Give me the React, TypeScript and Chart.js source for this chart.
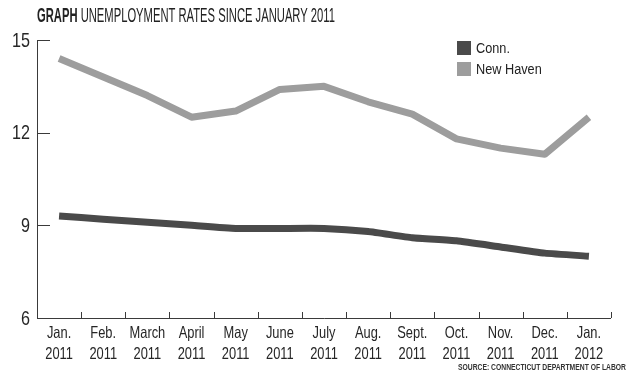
import React, { useEffect, useRef } from "react";
import { Chart, registerables } from "chart.js";

Chart.register(...registerables);

const months = ["Jan.", "Feb.", "March", "April", "May", "June", "July", "Aug.", "Sept.", "Oct.", "Nov.", "Dec.", "Jan."];
const years = ["2011", "2011", "2011", "2011", "2011", "2011", "2011", "2011", "2011", "2011", "2011", "2011", "2012"];
const connValues = [9.3, 9.2, 9.1, 9.0, 8.9, 8.9, 8.9, 8.8, 8.6, 8.5, 8.3, 8.1, 8.0];
const newHavenValues = [14.4, 13.8, 13.2, 12.5, 12.7, 13.4, 13.5, 13.0, 12.6, 11.8, 11.5, 11.3, 12.5];
const yTicks = [6, 9, 12, 15];
const seriesNames = ["Conn.", "New Haven"];
const titleBold = "GRAPH";
const titleRest = " UNEMPLOYMENT RATES SINCE JANUARY 2011";
const sourceText = "SOURCE: CONNECTICUT DEPARTMENT OF LABOR";

const FONT = "'Liberation Sans', Arial, sans-serif";
const DARK = "#4a4a4a";
const LIGHT = "#9d9d9d";
const AXIS = "#3a3a3a";
const TEXT = "#262626";

function drawScaled(ctx: any, text: string, x: number, y: number, font: string, sx: number, align: string) {
  ctx.save();
  ctx.font = font;
  ctx.textBaseline = "middle";
  ctx.textAlign = align;
  ctx.translate(x, y);
  ctx.scale(sx, 1);
  ctx.fillText(text, 0, 0);
  ctx.restore();
}

const decorPlugin = {
  id: "decor",
  beforeDatasetsDraw(chart: any) {
    const ctx = chart.ctx;
    const x = chart.scales.x;
    const y = chart.scales.y;
    const { left, right, top, bottom } = chart.chartArea;
    ctx.save();
    ctx.strokeStyle = AXIS;
    ctx.lineWidth = 1;
    ctx.beginPath();
    ctx.moveTo(left + 0.5, top);
    ctx.lineTo(left + 0.5, bottom + 0.5);
    ctx.lineTo(right, bottom + 0.5);
    ctx.stroke();
    // y ticks inward
    yTicks.forEach((v) => {
      const py = Math.round(y.getPixelForValue(v)) + 0.5;
      ctx.beginPath();
      ctx.moveTo(left, py);
      ctx.lineTo(left + 13, py);
      ctx.stroke();
    });
    // x ticks at category boundaries
    const n = months.length;
    for (let i = 0; i < n; i++) {
      const a = x.getPixelForValue(i);
      const b = i < n - 1 ? x.getPixelForValue(i + 1) : a + (a - x.getPixelForValue(i - 1));
      const px = Math.round((a + b) / 2) + 0.5;
      ctx.beginPath();
      ctx.moveTo(px, bottom);
      ctx.lineTo(px, bottom - 6);
      ctx.stroke();
    }
    ctx.restore();
  },
  afterDraw(chart: any) {
    const ctx = chart.ctx;
    const x = chart.scales.x;
    const y = chart.scales.y;
    const { left, bottom } = chart.chartArea;
    ctx.save();
    ctx.fillStyle = TEXT;

    // y tick labels
    yTicks.forEach((v) => {
      drawScaled(ctx, String(v), left - 7, y.getPixelForValue(v) + 1, `21px ${FONT}`, 0.77, "right");
    });

    // x tick labels
    months.forEach((m, i) => {
      const px = x.getPixelForValue(i);
      drawScaled(ctx, m, px, bottom + 15, `16.5px ${FONT}`, 0.78, "center");
      drawScaled(ctx, years[i], px, bottom + 36, `16.5px ${FONT}`, 0.78, "center");
    });

    // title
    ctx.fillStyle = "#222";
    ctx.font = `bold 20px ${FONT}`;
    const wb = ctx.measureText(titleBold).width;
    ctx.font = `20px ${FONT}`;
    const wr = ctx.measureText(titleRest).width;
    const sx = 298 / (wb + wr);
    ctx.save();
    ctx.textBaseline = "middle";
    ctx.translate(37, 16);
    ctx.scale(sx, 1);
    ctx.font = `bold 20px ${FONT}`;
    ctx.fillText(titleBold, 0, 0);
    ctx.font = `20px ${FONT}`;
    ctx.fillText(titleRest, wb, 0);
    ctx.restore();

    // source
    ctx.fillStyle = "#333";
    ctx.font = `bold 9.5px ${FONT}`;
    const ws = ctx.measureText(sourceText).width;
    drawScaled(ctx, sourceText, 626, 367, `bold 9.5px ${FONT}`, 168 / ws, "right");

    // legend
    const colors = [DARK, LIGHT];
    seriesNames.forEach((name, i) => {
      const ly = 41 + i * 21;
      ctx.fillStyle = colors[i];
      ctx.fillRect(457, ly, 14, 14);
      ctx.fillStyle = "#222";
      drawScaled(ctx, name, 476, ly + 7.5, `15.5px ${FONT}`, 0.82, "left");
    });
    ctx.restore();
  },
};

export default function App() {
  const ref = useRef<HTMLCanvasElement | null>(null);
  useEffect(() => {
    if (!ref.current) return;
    const labels = months.map((m, i) => m + " " + years[i]);
    const chart = new Chart(ref.current, {
      type: "line",
      data: {
        labels,
        datasets: [
          {
            label: seriesNames[1],
            data: newHavenValues,
            borderColor: LIGHT,
            backgroundColor: LIGHT,
            borderWidth: 7,
            pointRadius: 0,
            tension: 0,
            borderCapStyle: "butt",
            borderJoinStyle: "round",
          },
          {
            label: seriesNames[0],
            data: connValues,
            borderColor: DARK,
            backgroundColor: DARK,
            borderWidth: 7,
            pointRadius: 0,
            tension: 0.15,
            borderCapStyle: "butt",
            borderJoinStyle: "round",
          },
        ],
      },
      options: {
        animation: false,
        responsive: false,
        maintainAspectRatio: false,
        layout: { padding: { top: 40, right: 19, left: 0, bottom: 0 } },
        plugins: {
          legend: { display: false },
          tooltip: { enabled: false },
          title: { display: false },
        },
        scales: {
          x: {
            type: "category",
            offset: true,
            grid: { display: false },
            border: { display: false },
            ticks: { display: false, autoSkip: false },
            afterFit: (s: any) => {
              s.height = 64;
            },
          },
          y: {
            min: 6,
            max: 15,
            grid: { display: false },
            border: { display: false },
            ticks: { display: false, stepSize: 3 },
            afterFit: (s: any) => {
              s.width = 37;
            },
          },
        },
      },
      plugins: [decorPlugin],
    });
    return () => chart.destroy();
  }, []);
  return (
    <div style={{ position: "fixed", left: 0, top: 0, width: 630, height: 382, background: "#fff" }}>
      <canvas ref={ref} width={630} height={382} style={{ width: 630, height: 382, display: "block" }} />
    </div>
  );
}
